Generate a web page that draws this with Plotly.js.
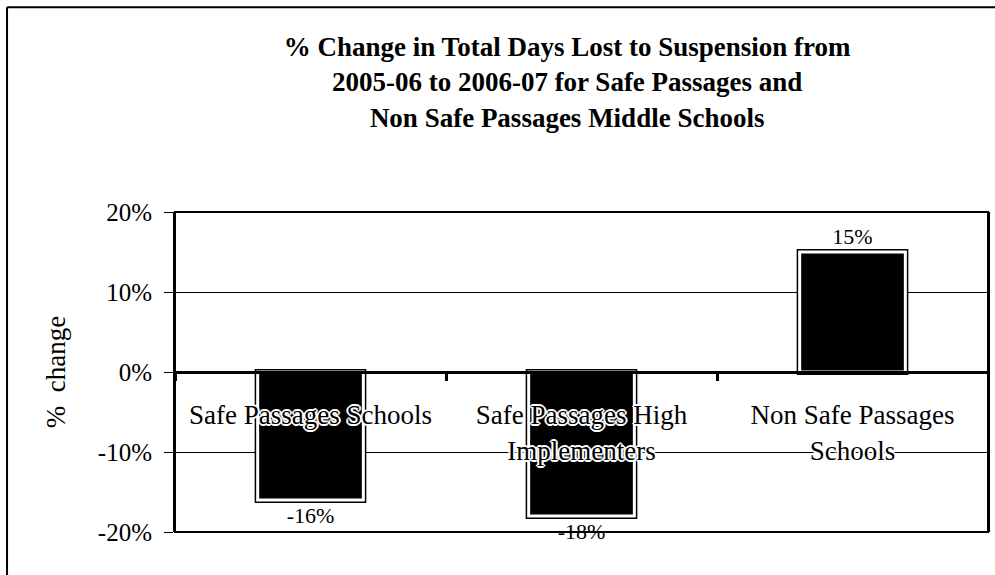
<!DOCTYPE html>
<html>
<head>
<meta charset="utf-8">
<script src="https://cdn.plot.ly/plotly-3.0.1.min.js"></script>
<style>
html,body{margin:0;padding:0;background:#fff;}
#chart{width:995px;height:575px;}
</style>
</head>
<body>
<div id="chart"></div>
<script>
const categories = ["Safe Passages Schools", "Safe Passages High<br>Implementers", "Non Safe Passages<br>Schools"];
const pctChange = [-16, -18, 15];
const yTickVals = [-20, -10, 0, 10, 20];
const yTickText = ["-20%", "-10%", "0%", "10%", "20%"];
const chartTitle = "% Change in Total Days Lost to Suspension from<br>2005-06 to 2006-07 for Safe Passages and<br>Non Safe Passages Middle Schools";
const yTitle = "%  change";

const serif = "'Liberation Serif', 'Times New Roman', serif";
const halo = "white 1px 1px 0, white -1px -1px 0, white 1px -1px 0, white -1px 1px 0, white 0 2px 0, white 0 -2px 0, white 2px 0 0, white -2px 0 0";

const outline = {
  type: "bar", x: categories, y: pctChange, width: 0.39,
  marker: {color: "#000", line: {color: "#000", width: 6}},
  hoverinfo: "skip", showlegend: false
};
const bars = {
  type: "bar", x: categories, y: pctChange, width: 0.39,
  marker: {color: "#000", line: {color: "#fff", width: 3}},
  text: pctChange.map(v => v + "%"),
  textposition: "outside", cliponaxis: false, constraintext: "none",
  textfont: {family: serif, size: 22, color: "#000"},
  showlegend: false
};

const layout = {
  width: 995, height: 575,
  margin: {l: 175, r: 7, t: 212, b: 43},
  paper_bgcolor: "#fff", plot_bgcolor: "#fff",
  barmode: "overlay",
  title: {
    text: "<b>" + chartTitle + "</b>",
    font: {family: serif, size: 27, color: "#000"},
    x: 0.57, xanchor: "center", xref: "container",
    y: 0.902, yanchor: "top", yref: "container"
  },
  xaxis: {
    type: "category",
    anchor: "free", position: 0.5,
    showline: true, linecolor: "#000", linewidth: 3,
    ticks: "outside", tickson: "boundaries", ticklen: 7, tickwidth: 3, tickcolor: "#000",
    showgrid: false, zeroline: false,
    tickfont: {family: serif, size: 27, color: "#000", shadow: halo},
    ticklabelstandoff: 18,
    layer: "above traces"
  },
  yaxis: {
    range: [-20, 20],
    tickvals: yTickVals, ticktext: yTickText,
    ticks: "outside", ticklen: 9, tickcolor: "#000", tickwidth: 1,
    showgrid: true, gridcolor: "#000", gridwidth: 1,
    zeroline: false,
    showline: true, linecolor: "#000", linewidth: 2, mirror: true,
    tickfont: {family: serif, size: 25, color: "#000"},
    ticklabelstandoff: 7,
    title: {text: yTitle, font: {family: serif, size: 27, color: "#000"}, standoff: 24}
  },
  shapes: [
    {type: "rect", xref: "paper", yref: "paper", x0: 0, x1: 1, y0: 0, y1: 1,
     line: {color: "#000", width: 2}, layer: "above"},
    {type: "line", xref: "paper", yref: "paper", x0: -0.2066, x1: -0.2066, y0: 1.64, y1: -0.2,
     line: {color: "#000", width: 2}},
    {type: "line", xref: "paper", yref: "paper", x0: -0.2066, x1: 1.01, y0: 1.64, y1: 1.64,
     line: {color: "#000", width: 2}}
  ]
};

Plotly.newPlot("chart", [outline, bars], layout, {displayModeBar: false, staticPlot: true});
</script>
</body>
</html>
